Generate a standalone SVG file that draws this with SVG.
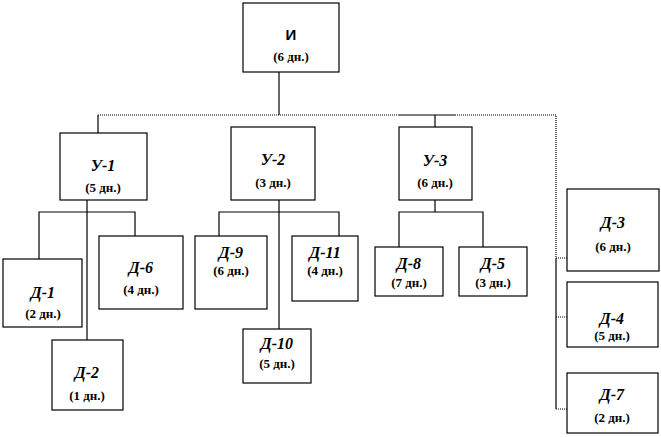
<svg xmlns="http://www.w3.org/2000/svg" width="661" height="437" viewBox="0 0 661 437">
<style>
rect{fill:#fff;stroke:#000;stroke-width:1.2}
.n{font-family:"Liberation Serif",serif;font-weight:bold;font-style:italic;font-size:16px;text-anchor:middle}
.i{font-family:"Liberation Sans",sans-serif;font-weight:bold;font-size:15px;text-anchor:middle}
.d{font-family:"Liberation Serif",serif;font-weight:bold;font-size:13px;text-anchor:middle}
.c{fill:none;stroke:#000;stroke-width:1.2}
.dt{fill:none;stroke:#000;stroke-width:1.2;stroke-dasharray:1 1}
</style>
<rect width="661" height="437" style="fill:#fff;stroke:none"/>
<g id="connectors">
<path class="c" d="M279 72V115"/>
<path class="dt" d="M98 115H398"/>
<path class="c" d="M398 115H455"/>
<path class="dt" d="M455 115H556V258"/>
<path class="c" d="M98 115V133"/>
<path class="c" d="M435 115V127"/>
<path class="c" d="M556 258V409"/>
<path class="dt" d="M556 258H567M556 317H567M556 409H567"/>
<path class="c" d="M87 200V340M39 259V212H135V236"/>
<path class="c" d="M279 200V329M219 236V212H339V236"/>
<path class="c" d="M435 200V212M399 247V212H483V247"/>
</g>
<g id="I"><rect x="243" y="3" width="96" height="69"/><text class="i" x="291" y="40">И</text><text class="d" x="291" y="61">(6 дн.)</text></g>
<g id="U1"><rect x="60" y="133" width="87" height="67"/><text class="n" x="103" y="171">У-1</text><text class="d" x="103" y="192">(5 дн.)</text></g>
<g id="U2"><rect x="231" y="127" width="84" height="73"/><text class="n" x="273" y="165">У-2</text><text class="d" x="273" y="187">(3 дн.)</text></g>
<g id="U3"><rect x="399" y="127" width="73" height="73"/><text class="n" x="435" y="166">У-3</text><text class="d" x="435" y="187">(6 дн.)</text></g>
<g id="D1"><rect x="3" y="259" width="79" height="68"/><text class="n" x="43" y="298">Д-1</text><text class="d" x="43" y="318">(2 дн.)</text></g>
<g id="D6"><rect x="99" y="236" width="84" height="73"/><text class="n" x="141" y="273">Д-6</text><text class="d" x="141" y="294">(4 дн.)</text></g>
<g id="D2"><rect x="52" y="340" width="71" height="70"/><text class="n" x="87" y="378">Д-2</text><text class="d" x="87" y="400">(1 дн.)</text></g>
<g id="D9"><rect x="195" y="236" width="72" height="73"/><text class="n" x="231" y="258">Д-9</text><text class="d" x="231" y="275">(6 дн.)</text></g>
<g id="D11"><rect x="292" y="236" width="66" height="65"/><text class="n" x="325" y="258">Д-11</text><text class="d" x="325" y="275">(4 дн.)</text></g>
<g id="D10"><rect x="243" y="329" width="68" height="54"/><text class="n" x="277" y="349">Д-10</text><text class="d" x="277" y="368">(5 дн.)</text></g>
<g id="D8"><rect x="375" y="247" width="68" height="49"/><text class="n" x="409" y="269">Д-8</text><text class="d" x="409" y="287">(7 дн.)</text></g>
<g id="D5"><rect x="459" y="247" width="68" height="49"/><text class="n" x="493" y="269">Д-5</text><text class="d" x="493" y="287">(3 дн.)</text></g>
<g id="D3"><rect x="567" y="189" width="92" height="82"/><text class="n" x="613" y="228">Д-3</text><text class="d" x="613" y="251">(6 дн.)</text></g>
<g id="D4"><rect x="567" y="282" width="91" height="65"/><text class="n" x="612" y="324">Д-4</text><text class="d" x="612" y="340">(5 дн.)</text></g>
<g id="D7"><rect x="567" y="373" width="91" height="60"/><text class="n" x="612" y="400">Д-7</text><text class="d" x="612" y="422">(2 дн.)</text></g>
</svg>
